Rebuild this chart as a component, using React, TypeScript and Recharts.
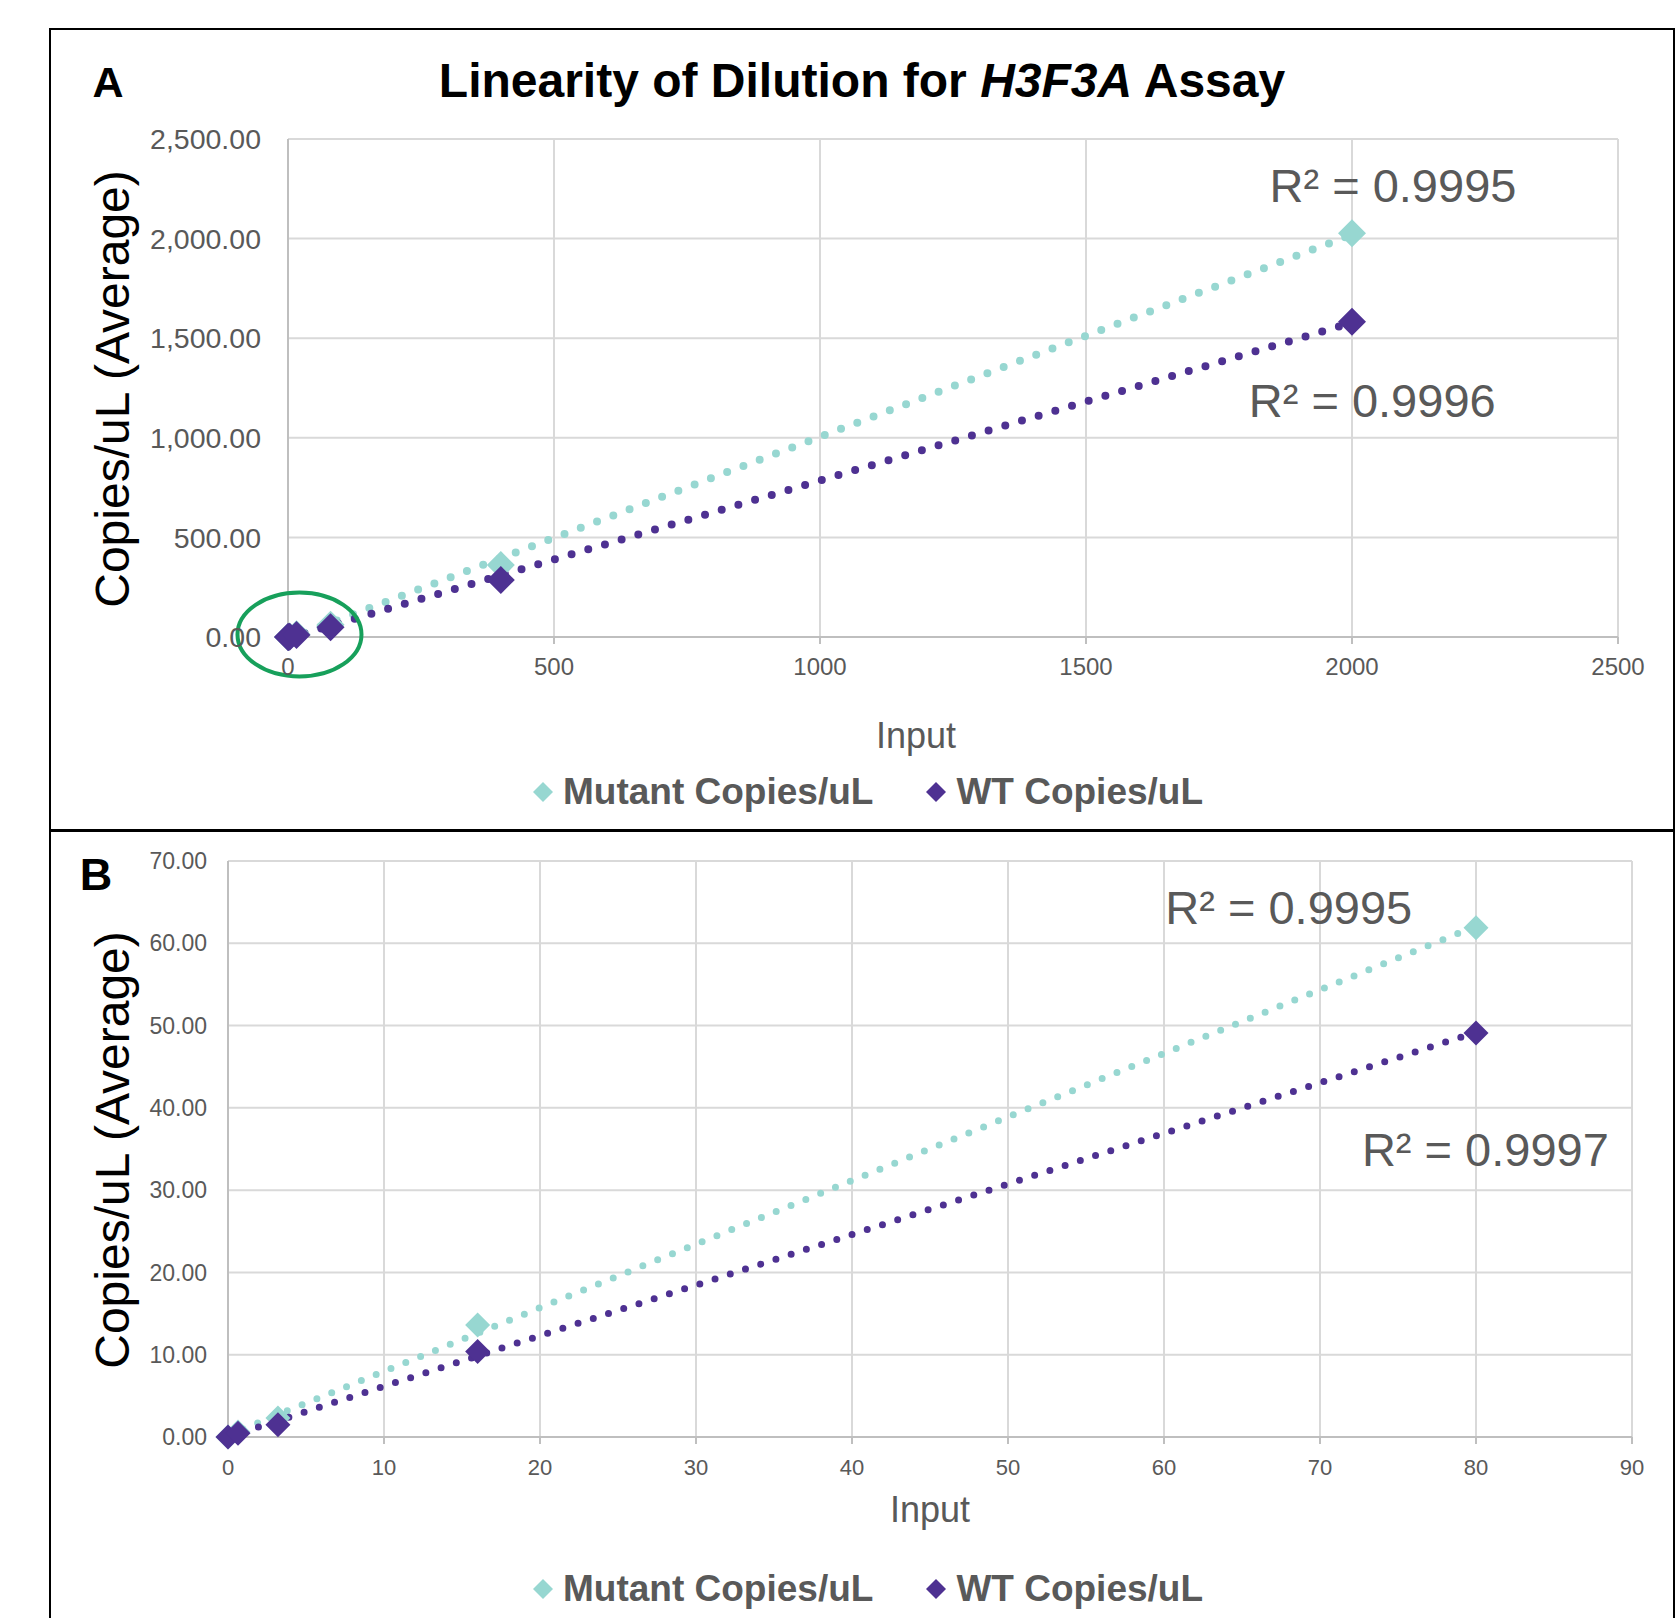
import React from 'react';
import { ScatterChart, Scatter, XAxis, YAxis, CartesianGrid, ReferenceLine, ReferenceDot } from 'recharts';

const FONT = '"Liberation Sans", Arial, Helvetica, sans-serif';

// ---- data ----
const inputLevels = [0, 0.64, 3.2, 16, 80, 400, 2000];
const mutantCopies = [0, 0.6, 2.3, 13.6, 61.9, 361, 2027];
const wtCopies = [0, 0.45, 1.5, 10.4, 49.1, 286, 1583];

const seriesNames = ['Mutant Copies/uL', 'WT Copies/uL'];
const seriesColors = ['#97D7D1', '#4E3192'];

const panelAXTicks = [0, 500, 1000, 1500, 2000, 2500];
const panelAYTicks = [0, 500, 1000, 1500, 2000, 2500];
const panelBXTicks = [0, 10, 20, 30, 40, 50, 60, 70, 80, 90];
const panelBYTicks = [0, 10, 20, 30, 40, 50, 60, 70];
const panelBMaxInput = 80;

const panelARSquared = ['R² = 0.9995', 'R² = 0.9996'];
const panelBRSquared = ['R² = 0.9995', 'R² = 0.9997'];
// annotation anchors (data units)
const panelARLabelAt = [{ x: 2077, y: 2269 }, { x: 2038, y: 1185 }];
const panelBRLabelAt = [{ x: 68, y: 64.4 }, { x: 80.6, y: 35 }];
const panelAHighlight = { x: 21.6, y: 12.5 };

const titleParts = ['Linearity of Dilution for ', 'H3F3A', ' Assay'];
const yAxisTitle = 'Copies/uL (Average)';
const xAxisTitle = 'Input';

function linearFit(xs: number[], ys: number[]) {
  const n = xs.length;
  const mx = xs.reduce((a, b) => a + b, 0) / n;
  const my = ys.reduce((a, b) => a + b, 0) / n;
  let sxy = 0;
  let sxx = 0;
  for (let i = 0; i < n; i++) {
    sxy += (xs[i] - mx) * (ys[i] - my);
    sxx += (xs[i] - mx) * (xs[i] - mx);
  }
  const slope = sxy / sxx;
  return { slope, intercept: my - slope * mx };
}

const fmt = (v: number) => v.toLocaleString('en-US', { minimumFractionDigits: 2, maximumFractionDigits: 2 });

const diamondShape = (half: number) => (props: any) => {
  const { cx, cy, fill } = props;
  if (cx == null || cy == null) return <g />;
  return <polygon points={`${cx},${cy - half} ${cx + half},${cy} ${cx},${cy + half} ${cx - half},${cy}`} fill={fill} />;
};

type PanelProps = {
  height: number;
  margin: { top: number; right: number; bottom: number; left: number };
  xTicks: number[];
  yTicks: number[];
  maxInput: number;
  xFont: number;
  yFont: number;
  xTickMargin: number;
  yTickMargin: number;
  markerHalf: number;
  dotWidth: number;
  dotGap: number;
  rFont: number;
  rLabels: string[];
  rLabelAt: { x: number; y: number }[];
  highlight?: { x: number; y: number };
};

function Panel(p: PanelProps) {
  const idx = inputLevels.map((x, i) => i).filter((i) => inputLevels[i] <= p.maxInput);
  const xs = idx.map((i) => inputLevels[i]);
  const seriesValues = [idx.map((i) => mutantCopies[i]), idx.map((i) => wtCopies[i])];
  const seriesData = seriesValues.map((vals) => xs.map((x, k) => ({ x, y: vals[k] })));
  const fits = seriesValues.map((vals) => linearFit(xs, vals));
  const xMin = Math.min(...xs);
  const xMax = Math.max(...xs);
  const xDomain = [p.xTicks[0], p.xTicks[p.xTicks.length - 1]];
  const yDomain = [p.yTicks[0], p.yTicks[p.yTicks.length - 1]];
  return (
    <ScatterChart width={1678} height={p.height} margin={p.margin}>
      <CartesianGrid stroke="#D9D9D9" strokeWidth={2} />
      <XAxis
        type="number"
        dataKey="x"
        domain={xDomain}
        ticks={p.xTicks}
        interval={0}
        height={60}
        tickSize={7}
        tickMargin={p.xTickMargin}
        axisLine={{ stroke: '#BFBFBF', strokeWidth: 2 }}
        tickLine={{ stroke: '#BFBFBF', strokeWidth: 2 }}
        tick={{ fill: '#595959', fontSize: p.xFont, fontFamily: FONT }}
      />
      <YAxis
        type="number"
        dataKey="y"
        domain={yDomain}
        ticks={p.yTicks}
        interval={0}
        width={100}
        tickSize={0}
        tickMargin={p.yTickMargin}
        tickLine={false}
        axisLine={{ stroke: '#BFBFBF', strokeWidth: 2 }}
        tick={{ fill: '#595959', fontSize: p.yFont, fontFamily: FONT }}
        tickFormatter={fmt}
      />
      {seriesData.map((d, i) => (
        <Scatter
          key={seriesNames[i]}
          name={seriesNames[i]}
          data={d}
          fill={seriesColors[i]}
          shape={diamondShape(p.markerHalf)}
          isAnimationActive={false}
        />
      ))}
      {fits.map((f, i) => (
        <ReferenceLine
          key={'fit' + i}
          segment={[
            { x: xMin, y: f.intercept + f.slope * xMin },
            { x: xMax, y: f.intercept + f.slope * xMax },
          ]}
          ifOverflow="visible"
          stroke={seriesColors[i]}
          strokeWidth={p.dotWidth}
          strokeDasharray={`0 ${p.dotGap}`}
          strokeLinecap="round"
        />
      ))}
      {p.rLabels.map((t, i) => (
        <ReferenceDot
          key={'r' + i}
          x={p.rLabelAt[i].x}
          y={p.rLabelAt[i].y}
          ifOverflow="visible"
          shape={(sp: any) => (
            <text
              x={sp.cx}
              y={sp.cy}
              textAnchor="middle"
              dominantBaseline="central"
              fontSize={p.rFont}
              fontFamily={FONT}
              fill="#595959"
            >
              {t}
            </text>
          )}
        />
      ))}
      {p.highlight && (
        <ReferenceDot
          x={p.highlight.x}
          y={p.highlight.y}
          ifOverflow="visible"
          shape={(sp: any) => (
            <ellipse cx={sp.cx} cy={sp.cy} rx={62} ry={42} fill="none" stroke="#17A05B" strokeWidth={4} />
          )}
        />
      )}
    </ScatterChart>
  );
}

function LegendRow({ top }: { top: number }) {
  return (
    <div
      style={{
        position: 'absolute',
        left: 533,
        top: top - 25,
        height: 50,
        display: 'flex',
        alignItems: 'center',
        fontFamily: FONT,
        fontWeight: 'bold',
        fontSize: 37,
        color: '#595959',
        whiteSpace: 'nowrap',
      }}
    >
      {seriesNames.map((n, i) => (
        <div key={n} style={{ display: 'flex', alignItems: 'center', marginRight: i === 0 ? 53 : 0 }}>
          <svg width={20} height={22} style={{ marginRight: 10 }}>
            <polygon points="10,1 20,11 10,21 0,11" fill={seriesColors[i]} />
          </svg>
          <span>{n}</span>
        </div>
      ))}
    </div>
  );
}

export default function App() {
  return (
    <div
      style={{
        position: 'absolute',
        left: 0,
        top: 0,
        width: 1678,
        height: 1618,
        overflow: 'hidden',
        background: '#fff',
      }}
    >
      {/* frame */}
      <div
        style={{
          position: 'absolute',
          left: 49,
          top: 28,
          width: 1626,
          height: 1700,
          border: '2px solid #000',
          boxSizing: 'border-box',
        }}
      />
      <div style={{ position: 'absolute', left: 49, top: 829, width: 1626, height: 3, background: '#000' }} />

      <div style={{ position: 'absolute', left: 0, top: 0 }}>
        <Panel
          height={830}
          margin={{ top: 139, right: 60, bottom: 133, left: 188 }}
          xTicks={panelAXTicks}
          yTicks={panelAYTicks}
          maxInput={Infinity}
          xFont={24}
          yFont={28.5}
          xTickMargin={14}
          yTickMargin={27}
          markerHalf={14}
          dotWidth={8}
          dotGap={17.4}
          rFont={47}
          rLabels={panelARSquared}
          rLabelAt={panelARLabelAt}
          highlight={panelAHighlight}
        />
      </div>
      <div style={{ position: 'absolute', left: 0, top: 830 }}>
        <Panel
          height={788}
          margin={{ top: 31, right: 46, bottom: 121, left: 128 }}
          xTicks={panelBXTicks}
          yTicks={panelBYTicks}
          maxInput={panelBMaxInput}
          xFont={22}
          yFont={23}
          xTickMargin={15}
          yTickMargin={21}
          markerHalf={12.5}
          dotWidth={7}
          dotGap={16}
          rFont={47}
          rLabels={panelBRSquared}
          rLabelAt={panelBRLabelAt}
        />
      </div>

      <svg
        width={1678}
        height={1618}
        style={{ position: 'absolute', left: 0, top: 0, pointerEvents: 'none' }}
        fontFamily={FONT}
      >
        <text x={862} y={80} textAnchor="middle" dominantBaseline="central" fontSize={48} fontWeight="bold" fill="#000">
          {titleParts[0]}
          <tspan fontStyle="italic">{titleParts[1]}</tspan>
          {titleParts[2]}
        </text>
        <text x={108} y={82} textAnchor="middle" dominantBaseline="central" fontSize={43} fontWeight="bold" fill="#000">
          A
        </text>
        <text x={96} y={874} textAnchor="middle" dominantBaseline="central" fontSize={45} fontWeight="bold" fill="#000">
          B
        </text>
        <text
          x={112}
          y={389}
          transform="rotate(-90 112 389)"
          textAnchor="middle"
          dominantBaseline="central"
          fontSize={48}
          fill="#000"
        >
          {yAxisTitle}
        </text>
        <text
          x={112}
          y={1150}
          transform="rotate(-90 112 1150)"
          textAnchor="middle"
          dominantBaseline="central"
          fontSize={48}
          fill="#000"
        >
          {yAxisTitle}
        </text>
        <text x={916} y={735} textAnchor="middle" dominantBaseline="central" fontSize={36} fill="#595959">
          {xAxisTitle}
        </text>
        <text x={930} y={1509} textAnchor="middle" dominantBaseline="central" fontSize={36} fill="#595959">
          {xAxisTitle}
        </text>
      </svg>

      <LegendRow top={792} />
      <LegendRow top={1589} />
    </div>
  );
}
